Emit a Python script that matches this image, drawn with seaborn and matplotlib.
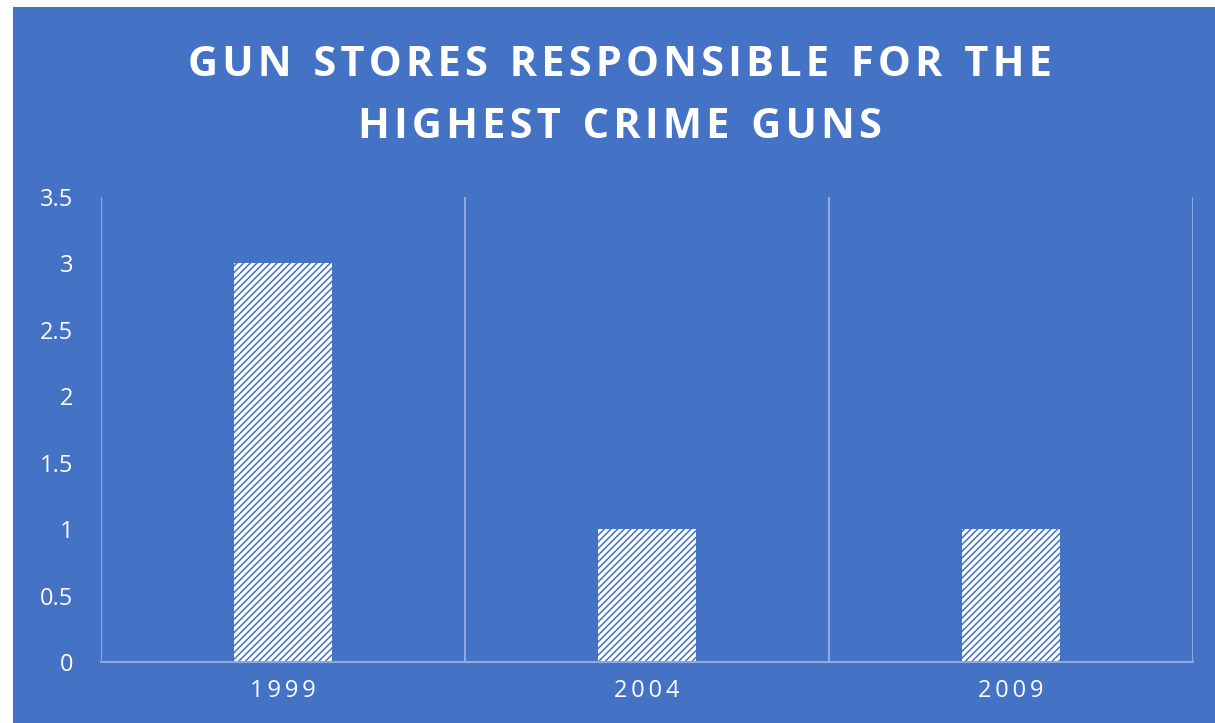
import matplotlib
matplotlib.use("Agg")
import matplotlib.pyplot as plt
import seaborn as sns
import pandas as pd
from matplotlib.patches import Rectangle

# data
years = ["1999", "2004", "2009"]
stores = [3, 1, 1]
y_ticks = [0, 0.5, 1, 1.5, 2, 2.5, 3, 3.5]
title_lines = ["GUN STORES RESPONSIBLE FOR THE", "HIGHEST CRIME GUNS"]

bg = "#4472C4"
grid_col = "#8FA9DC"

sns.set_theme(style="white")
plt.rcParams["font.family"] = ["Open Sans", "DejaVu Sans"]
plt.rcParams["hatch.linewidth"] = 1.1


def spaced(s, gap="\u200a"):
    # rough letter spacing like the office chart title
    return gap.join(s).replace(gap + " " + gap, "  ")


df = pd.DataFrame({"Year": years, "Stores": stores})

fig = plt.figure(figsize=(12.15, 7.23), dpi=100, facecolor="white")
# blue chart area with a small white margin top and left
fig.patches.append(Rectangle((13 / 1215, 0), 1 - 13 / 1215, 1 - 7 / 723,
                             transform=fig.transFigure, facecolor=bg,
                             edgecolor="none", zorder=-10))

ax = fig.add_axes([101 / 1215, 1 - 662 / 723, (1193 - 101) / 1215, (662 - 197) / 723])
ax.set_facecolor("none")

sns.barplot(data=df, x="Year", y="Stores", ax=ax, width=0.27,
            color="white", edgecolor=bg, linewidth=0, saturation=1)
for p in ax.patches:
    p.set_hatch("/////")
    p.set_facecolor("white")
    p.set_edgecolor(bg)

ax.set_xlim(-0.5, 2.5)
ax.set_ylim(0, 3.5)
ax.set_yticks(y_ticks)
ax.set_yticklabels([f"{t:g}" for t in y_ticks])
ax.set_xticks(range(len(years)))
ax.set_xticklabels([spaced(y, "\u2009") for y in years])

# category divider gridlines
for xv in [-0.5, 0.5, 1.5, 2.5]:
    ax.axvline(xv, color=grid_col, lw=1.5, zorder=0)

for s in ["top", "right", "left"]:
    ax.spines[s].set_visible(False)
ax.spines["bottom"].set_color(grid_col)
ax.spines["bottom"].set_linewidth(1.5)

ax.tick_params(axis="both", colors="white", labelsize=17, length=0)
ax.tick_params(axis="x", pad=12)
ax.tick_params(axis="y", pad=20)
ax.set_xlabel("")
ax.set_ylabel("")

fig.text(0.51, 0.91, spaced(title_lines[0]), color="white",
         fontsize=30, fontweight="bold", ha="center", va="center")
fig.text(0.51, 0.823, spaced(title_lines[1]), color="white",
         fontsize=30, fontweight="bold", ha="center", va="center")

fig.savefig("out.png", dpi=100, facecolor="white")
